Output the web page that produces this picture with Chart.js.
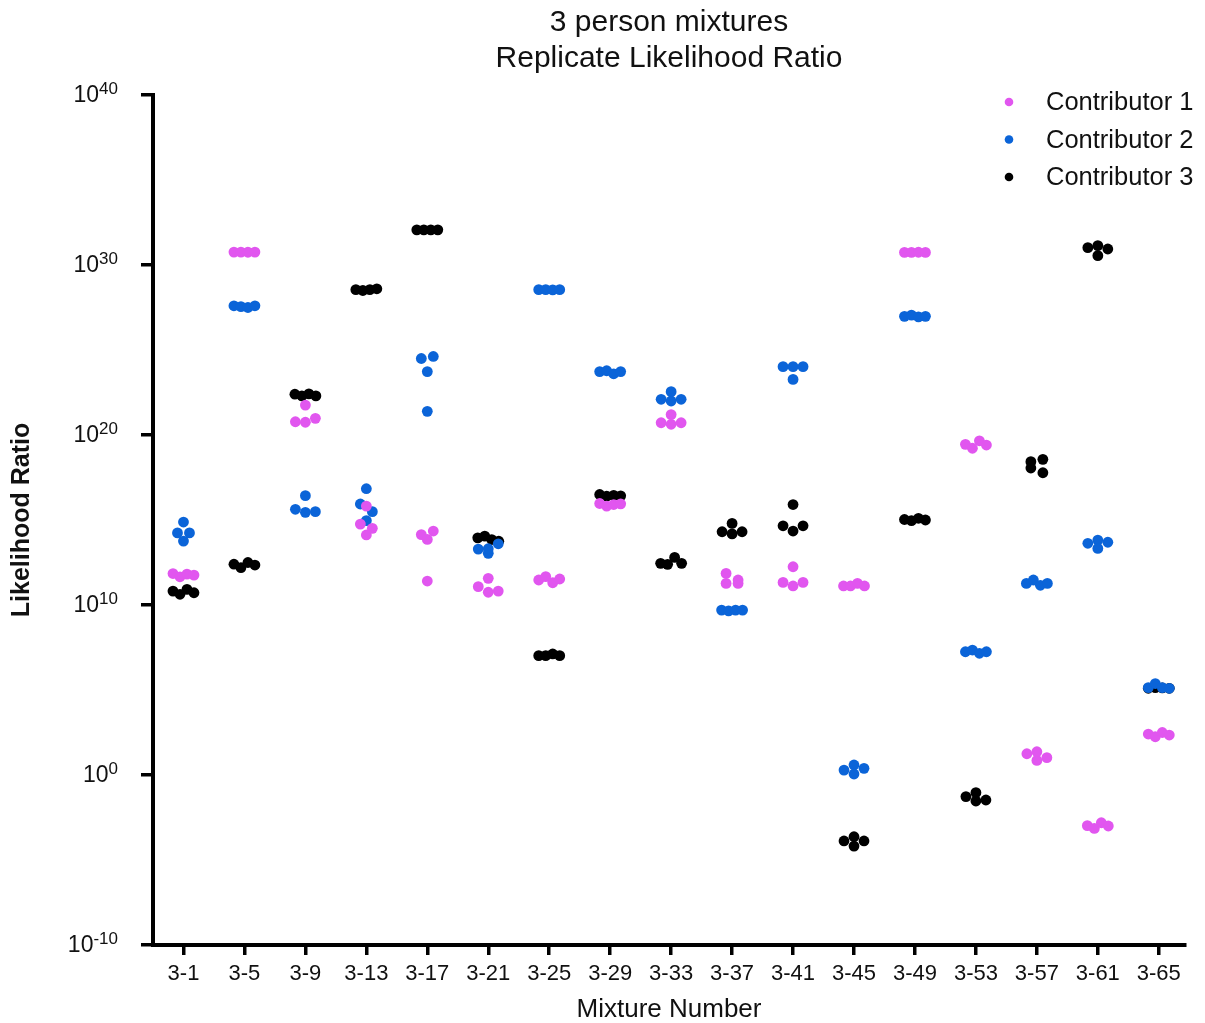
<!DOCTYPE html>
<html><head><meta charset="utf-8">
<script src="https://cdn.jsdelivr.net/npm/chart.js@4/dist/chart.umd.min.js"></script>
<style>html,body{margin:0;padding:0;background:#fff}#wrap{width:1205px;height:1023px}</style>
</head><body><div id="wrap"><canvas id="c" width="1205" height="1023"></canvas></div>
<script>
// ---- data (log10 of likelihood ratio, 4 replicates per mixture) ----
const categories = ['3-1','3-5','3-9','3-13','3-17','3-21','3-25','3-29','3-33','3-37','3-41','3-45','3-49','3-53','3-57','3-61','3-65'];
const contributor1Log10 = [
  [11.85,11.66,11.82,11.76],[30.76,30.76,30.75,30.76],[21.76,20.78,20.75,20.98],[15.82,14.76,14.12,14.51],
  [14.14,13.86,14.35,11.41],[11.57,11.08,10.75,10.82],[11.47,11.67,11.31,11.53],[15.97,15.82,15.91,15.95],
  [21.2,20.72,20.63,20.72],[11.86,11.27,11.27,11.47],[12.25,11.33,11.12,11.33],[11.12,11.12,11.27,11.12],
  [30.74,30.74,30.75,30.74],[19.45,19.22,19.66,19.41],[1.25,0.86,1.37,1.02],[-2.98,-3.14,-2.81,-3.0],
  [2.41,2.25,2.5,2.35]
];
const contributor2Log10 = [
  [14.24,14.88,13.76,14.24],[27.6,27.55,27.5,27.6],[16.43,15.63,15.45,15.49],[16.84,15.94,15.49,14.96],
  [24.5,24.62,23.73,21.39],[13.29,13.04,13.31,13.6],[28.55,28.55,28.54,28.55],[23.73,23.78,23.6,23.73],
  [22.1,22.0,22.55,22.1],[9.7,9.65,9.7,9.7],[24.02,24.02,24.02,23.27],[0.29,0.59,0.06,0.39],
  [26.98,27.05,26.95,26.98],[7.25,7.35,7.16,7.25],[11.27,11.47,11.16,11.27],[13.63,13.82,13.33,13.69],
  [5.14,5.38,5.14,5.1]
];
const contributor3Log10 = [
  [10.82,10.63,10.92,10.72],[12.4,12.2,12.5,12.35],[22.4,22.3,22.42,22.3],[28.55,28.5,28.55,28.6],
  [32.07,32.07,32.07,32.07],[13.95,14.05,13.85,13.75],[7.02,7.02,7.12,7.02],[16.5,16.4,16.45,16.42],
  [12.45,12.39,12.8,12.45],[14.31,14.18,14.8,14.31],[15.91,14.66,14.35,14.66],[-3.88,-4.18,-3.63,-3.88],
  [15.03,14.96,15.1,15.0],[-1.27,-1.53,-1.04,-1.47],[18.43,18.57,18.06,17.78],[31.02,31.14,30.94,30.55],
  [5.1,5.14,5.12,5.1]
];
const yTickExponents = [-10,0,10,20,30,40];
const seriesLabels = ['Contributor 1','Contributor 2','Contributor 3'];
const seriesColors = ['#e156ef','#0b64d8','#000000'];

// ---- scatter-dot spreading: dots that are close vertically are spread into a row ----
const PX_PER_CAT = 61, PX_PER_DEC = 17, GROUP_PX = 8;
function swarmOffsets(logs){
  const order = logs.map((v,i)=>i).sort((a,b)=>logs[b]-logs[a]);
  const groups = [];
  order.forEach(i=>{
    const g = groups[groups.length-1];
    if (g && (logs[g[0]] - logs[i]) * PX_PER_DEC <= GROUP_PX) g.push(i); else groups.push([i]);
  });
  const offs = new Array(logs.length).fill(0);
  groups.forEach(idx=>{
    const n = idx.length; if (n === 1) return;
    const s = n === 2 ? 12 : Math.min(10, 21/(n-1));
    idx.slice().sort((a,b)=>a-b).forEach((i,k)=>{ offs[i] = (k - (n-1)/2) * s; });
  });
  return offs.map(o => o/PX_PER_CAT);
}
function buildPoints(series){
  const pts = [];
  series.forEach((logs, ci)=>{
    const offs = swarmOffsets(logs);
    logs.forEach((e,j)=>pts.push({x: ci+offs[j], y: Math.pow(10,e)}));
  });
  return pts;
}
const allSeries = [contributor1Log10, contributor2Log10, contributor3Log10];

const FONT = '"Liberation Sans", Arial, Helvetica, sans-serif';

const yTickLabelPlugin = {
  id:'yTickLabels',
  afterDraw(chart){
    const ctx = chart.ctx, ys = chart.scales.y;
    const rightX = chart.chartArea.left - 35;
    ctx.save(); ctx.fillStyle = '#111'; ctx.textBaseline = 'middle';
    yTickExponents.forEach(e=>{
      const y = ys.getPixelForValue(Math.pow(10,e));
      ctx.font = '17px ' + FONT;
      const t = String(e);
      const w = ctx.measureText(t).width;
      ctx.textAlign = 'left'; ctx.fillText(t, rightX - w, y - 6);
      ctx.font = '23px ' + FONT;
      ctx.textAlign = 'right'; ctx.fillText('10', rightX - w, y + 1);
    });
    ctx.restore();
  }
};
const legendPlugin = {
  id:'customLegend',
  afterDraw(chart){
    const ctx = chart.ctx;
    const dotX = chart.width - 196, textX = chart.width - 159, y0 = 102, dy = 37.5;
    ctx.save();
    chart.data.datasets.forEach((ds,i)=>{
      const y = y0 + i*dy;
      ctx.beginPath(); ctx.arc(dotX, y, 4.3, 0, Math.PI*2); ctx.fillStyle = ds.backgroundColor; ctx.fill();
      ctx.fillStyle = '#111'; ctx.font = '25.5px ' + FONT; ctx.textAlign='left'; ctx.textBaseline='middle';
      ctx.fillText(ds.label, textX, y + 1);
    });
    ctx.restore();
  }
};

new Chart(document.getElementById('c'), {
  type:'scatter',
  data:{
    datasets: allSeries.map((s,i)=>({
      label: seriesLabels[i], data: buildPoints(s),
      backgroundColor: seriesColors[i], borderColor: seriesColors[i], borderWidth:0,
      pointRadius:5.4, pointHoverRadius:5.4
    }))
  },
  options:{
    responsive:false, animation:false, devicePixelRatio:1,
    layout:{padding:{left:0,right:20,top:0,bottom:0}},
    plugins:{
      legend:{display:false}, tooltip:{enabled:false},
      title:{display:true, fullSize:false, text:['3 person mixtures','Replicate Likelihood Ratio'],
        color:'#111', font:{family:FONT, size:30, weight:'normal', lineHeight:1.2}, padding:{top:5,bottom:18}}
    },
    scales:{
      x:{
        type:'linear', min:-0.5, max:16.43,
        afterBuildTicks:(s)=>{ s.ticks = categories.map((c,i)=>({value:i})); },
        afterFit:(s)=>{ s.height = 78; },
        ticks:{autoSkip:false, maxRotation:0, padding:6, color:'#111', font:{family:FONT,size:22},
          callback:(v)=>categories[v] ?? ''},
        grid:{display:true, drawOnChartArea:false, drawTicks:true, tickLength:10, lineWidth:3.5, color:'#000'},
        border:{display:true, color:'#000', width:4},
        title:{display:true, text:'Mixture Number', color:'#111', font:{family:FONT,size:26,lineHeight:1}, padding:{top:0,bottom:0}}
      },
      y:{
        type:'logarithmic', min:1e-10, max:1e40,
        afterBuildTicks:(s)=>{ s.ticks = yTickExponents.map(e=>({value:Math.pow(10,e)})); },
        afterFit:(s)=>{ s.width = 153; },
        ticks:{display:false},
        grid:{display:true, drawOnChartArea:false, drawTicks:true, tickLength:12, lineWidth:3.5, color:'#000'},
        border:{display:true, color:'#000', width:4},
        title:{display:true, text:'Likelihood Ratio', color:'#111', font:{family:FONT,size:25,weight:'bold',lineHeight:1}, padding:{top:10,bottom:0}}
      }
    }
  },
  plugins:[yTickLabelPlugin, legendPlugin]
});
</script></body></html>
